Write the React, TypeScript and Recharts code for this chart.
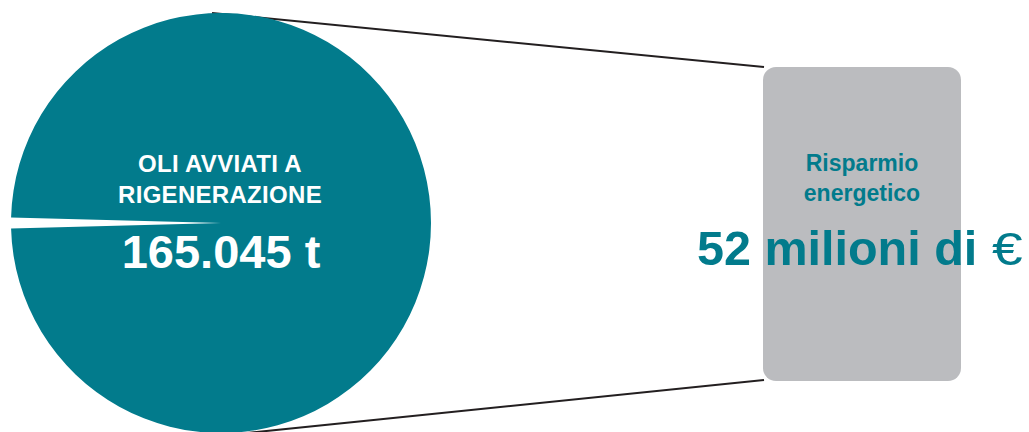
import { PieChart, Pie, Cell, Customized, Label } from 'recharts';

// Dati
const sliceNames = ['separazione', 'OLI AVVIATI A RIGENERAZIONE'];
const sliceValues = [1400, 165045];
const sliceColors = ['#ffffff', '#027B8C'];

const pieLabelLines = ['OLI AVVIATI A', 'RIGENERAZIONE'];
const pieValueLabel = '165.045 t';
const boxLabelLines = ['Risparmio', 'energetico'];
const boxValueLabel = '52 milioni di';
const currency = '€';

const TEAL = '#027B8C';
const GRAY = '#BBBCBF';
const INK = '#231F20';
const FONT = '"Liberation Sans", Arial, Helvetica, sans-serif';

const data = sliceNames.map((name, i) => ({ name, value: sliceValues[i] }));

// sfondo: linee di raccordo e riquadro grigio
function Backdrop() {
  return (
    <g>
      <line x1={212} y1={13} x2={764} y2={67} stroke={INK} strokeWidth={2} />
      <line x1={247} y1={433} x2={764} y2={380} stroke={INK} strokeWidth={2} />
      <rect x={763} y={67} width={198} height={314} rx={13} ry={13} fill={GRAY} />
    </g>
  );
}

// testi sopra la torta e nel riquadro
function Labels() {
  return (
    <g>
      {pieLabelLines.map((t, i) => (
        <text
          key={t}
          x={220}
          y={172 + i * 31}
          textAnchor="middle"
          fill="#fff"
          fontFamily={FONT}
          fontWeight="bold"
          fontSize={24}
          letterSpacing={0.3}
        >
          {t}
        </text>
      ))}
      <text x={221} y={268} textAnchor="middle" fill="#fff" fontFamily={FONT} fontWeight="bold" fontSize={47}>
        {pieValueLabel}
      </text>

      {boxLabelLines.map((t, i) => (
        <text
          key={t}
          x={862}
          y={171 + i * 30}
          textAnchor="middle"
          fill={TEAL}
          fontFamily={FONT}
          fontWeight="bold"
          fontSize={23}
        >
          {t}
        </text>
      ))}
      <text x={697} y={265} fill={TEAL} fontFamily={FONT} fontSize={48.5} fontWeight="bold">
        {boxValueLabel}
      </text>
      <text
        x={0}
        y={0}
        transform="translate(992,265) scale(1.2,1)"
        fill={TEAL}
        fontFamily={FONT}
        fontSize={46}
      >
        {currency}
      </text>
    </g>
  );
}

export default function App() {
  return (
    <div style={{ position: 'fixed', left: 0, top: 0, width: 1029, height: 432, background: '#fff' }}>
      <PieChart width={1029} height={432} margin={{ top: 0, right: 0, bottom: 0, left: 0 }}>
        <Customized component={Backdrop} />
        <Pie
          data={data}
          dataKey="value"
          nameKey="name"
          cx={221}
          cy={223}
          outerRadius={210}
          startAngle={178.5}
          endAngle={538.5}
          stroke="none"
          isAnimationActive={false}
        >
          {data.map((d, i) => (
            <Cell key={d.name} fill={sliceColors[i]} />
          ))}
          <Label position="center" content={() => <Labels />} />
        </Pie>
      </PieChart>
    </div>
  );
}
